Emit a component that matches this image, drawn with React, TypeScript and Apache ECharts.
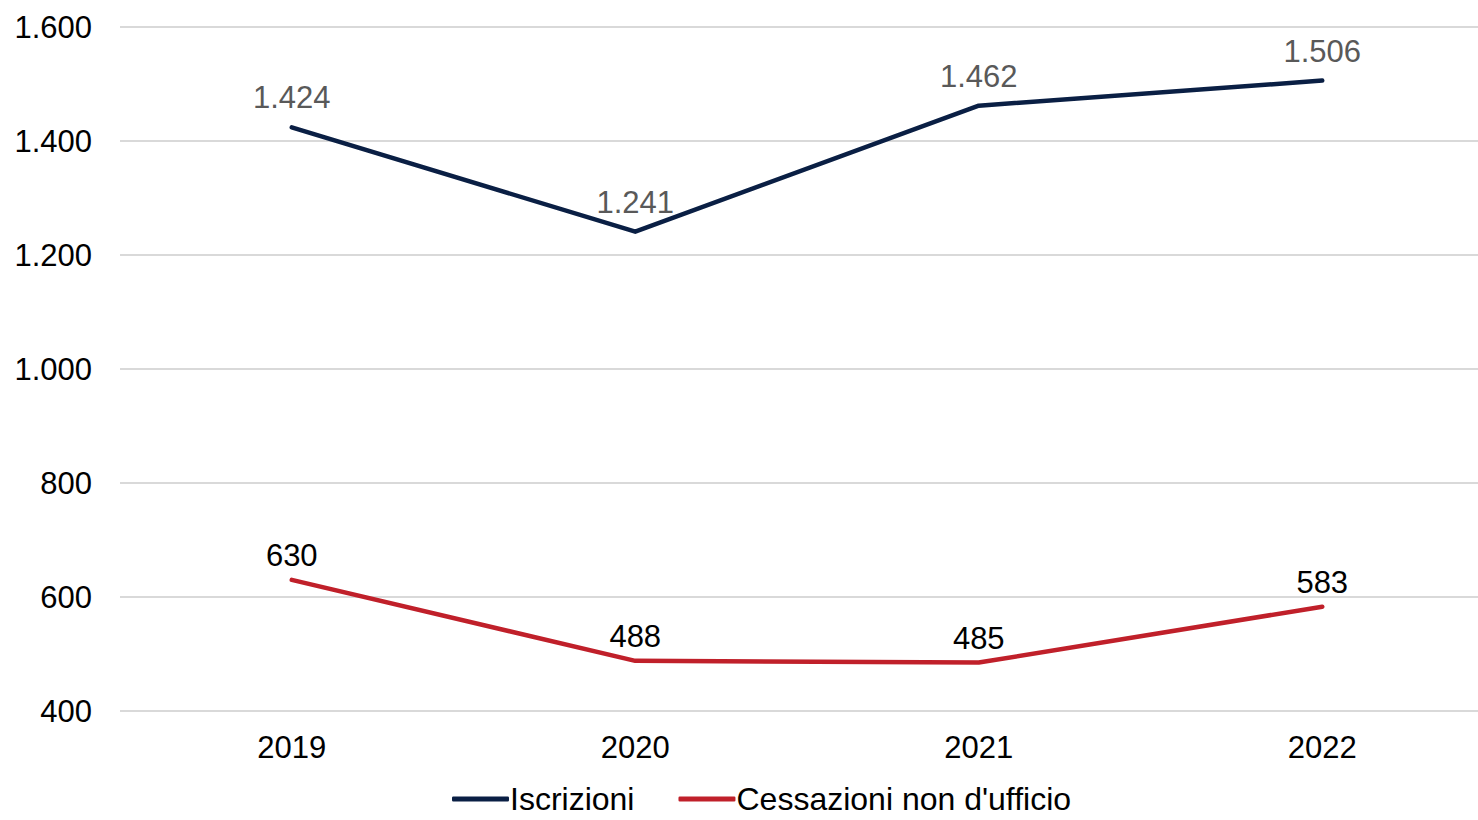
import React, { useEffect, useRef } from "react";
import * as echarts from "echarts";

const years = ["2019", "2020", "2021", "2022"];
const iscrizioni = [1424, 1241, 1462, 1506];
const cessazioni = [630, 488, 485, 583];
const seriesNames = ["Iscrizioni", "Cessazioni non d'ufficio"];

const FONT = "'Liberation Sans', Arial, sans-serif";
const FS = 31;
const fmt = (v: number) => v.toLocaleString("de-DE");

export default function App() {
  const ref = useRef<HTMLDivElement>(null);
  useEffect(() => {
    document.body.style.margin = "0";
    document.body.style.overflow = "hidden";
    const chart = echarts.init(ref.current!, null, { renderer: "svg" });
    chart.setOption({
      animation: false,
      backgroundColor: "#ffffff",
      textStyle: { fontFamily: FONT },
      grid: { left: 120, top: 27, width: 1374, height: 684, containLabel: false },
      legend: {
        left: 452,
        top: 782,
        padding: 0,
        itemGap: 44,
        itemWidth: 57,
        itemHeight: 5,
        icon: "roundRect",
        textStyle: { fontSize: 32, lineHeight: 34, color: "#000", fontFamily: FONT, padding: [0, 0, 0, -4] },
        data: seriesNames,
      },
      xAxis: {
        type: "category",
        data: years,
        boundaryGap: true,
        axisLine: { show: false },
        axisTick: { show: false },
        axisLabel: { fontSize: FS, color: "#000", margin: 21, fontFamily: FONT },
      },
      yAxis: {
        type: "value",
        min: 400,
        max: 1600,
        interval: 200,
        axisLine: { show: false },
        axisTick: { show: false },
        splitLine: { lineStyle: { color: "#d9d9d9", width: 2 } },
        axisLabel: { fontSize: FS, color: "#000", margin: 28, fontFamily: FONT, formatter: (v: number) => fmt(v) },
      },
      series: [
        {
          name: seriesNames[0],
          type: "line",
          data: iscrizioni,
          color: "#0a1f44",
          symbol: "circle",
          symbolSize: 0.1,
          showSymbol: true,
          lineStyle: { width: 4.5, color: "#0a1f44", cap: "round", join: "round" },
          itemStyle: { color: "#0a1f44" },
          label: {
            show: true,
            position: "top",
            distance: 14,
            fontSize: FS,
            color: "#595959",
            fontFamily: FONT,
            formatter: (p: any) => fmt(p.value),
          },
        },
        {
          name: seriesNames[1],
          type: "line",
          data: cessazioni,
          color: "#c0202a",
          symbol: "circle",
          symbolSize: 0.1,
          showSymbol: true,
          lineStyle: { width: 4.5, color: "#c0202a", cap: "round", join: "round" },
          itemStyle: { color: "#c0202a" },
          label: {
            show: true,
            position: "top",
            distance: 9,
            fontSize: FS,
            color: "#000",
            fontFamily: FONT,
            formatter: (p: any) => fmt(p.value),
          },
        },
      ],
    });
    return () => chart.dispose();
  }, []);
  return <div ref={ref} style={{ width: 1500, height: 820 }} />;
}
